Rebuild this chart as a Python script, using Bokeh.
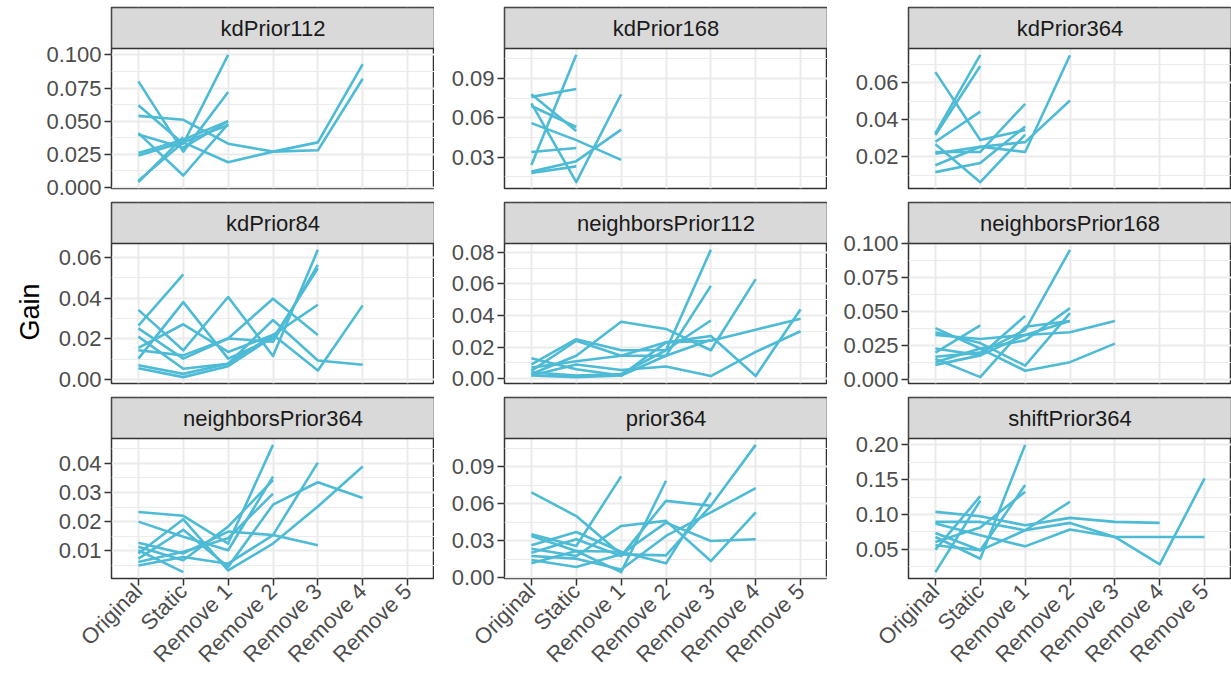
import math
from bokeh.plotting import figure
from bokeh.layouts import column, row
from bokeh.models import FixedTicker, Title, Range1d, PrintfTickFormatter
from bokeh.embed import file_html
from bokeh.resources import INLINE
from bokeh.core.properties import value

conditions = ["Original", "Static", "Remove 1", "Remove 2", "Remove 3", "Remove 4", "Remove 5"]
panel_names = ["kdPrior112", "kdPrior168", "kdPrior364",
               "kdPrior84", "neighborsPrior112", "neighborsPrior168",
               "neighborsPrior364", "prior364", "shiftPrior364"]

kd_prior_112 = [
    [0.080, 0.027, 0.072],
    [0.062, 0.033, 0.100],
    [0.054, 0.051, 0.033, 0.027, 0.028, 0.082],
    [0.041, 0.009, 0.048],
    [0.040, 0.030, 0.050],
    [0.026, 0.036, 0.050],
    [0.024, 0.034, 0.019, 0.027, 0.034, 0.093],
    [0.005, 0.034, 0.047],
    [0.004, 0.038],
]
kd_prior_168 = [
    [0.076, 0.082],
    [0.024, 0.108],
    [0.078, 0.050],
    [0.071, 0.011, 0.078],
    [0.069, 0.053],
    [0.056, 0.043, 0.028],
    [0.034, 0.037],
    [0.019, 0.027, 0.051],
    [0.018, 0.023],
]
kd_prior_364 = [
    [0.0658, 0.0291, 0.0345],
    [0.0327, 0.0751],
    [0.0318, 0.0691],
    [0.0282, 0.0445],
    [0.0269, 0.0064, 0.0320],
    [0.0227, 0.0227, 0.0487],
    [0.0218, 0.0255, 0.0227, 0.0749],
    [0.0155, 0.0255, 0.0280, 0.0505],
    [0.0118, 0.0167, 0.0364],
]
kd_prior_84 = [
    [0.0265, 0.0517],
    [0.0343, 0.0144, 0.0406, 0.0116, 0.0638],
    [0.0103, 0.0381, 0.0103, 0.0202, 0.0547],
    [0.0252, 0.0103, 0.0202, 0.0398, 0.0219],
    [0.0211, 0.0053, 0.0078, 0.0293, 0.0094, 0.0073],
    [0.0156, 0.0272, 0.0136, 0.0219, 0.0368],
    [0.0144, 0.0119, 0.0202, 0.0186, 0.0564],
    [0.0070, 0.0028, 0.0078, 0.0220, 0.0045, 0.0365],
    [0.0056, 0.0012, 0.0066, 0.0210],
]
neighbors_prior_112 = [
    [0.009, 0.025, 0.018, 0.018, 0.0815],
    [0.005, 0.024, 0.0145, 0.0145, 0.0247],
    [0.003, 0.0145, 0.036, 0.0315, 0.018, 0.063],
    [0.013, 0.006, 0.002, 0.0145, 0.0587],
    [0.007, 0.011, 0.0145, 0.023, 0.027, 0.0017, 0.044],
    [0.002, 0.009, 0.0055, 0.0077, 0.0017, 0.017, 0.030],
    [0.004, 0.002, 0.003, 0.018, 0.0368],
    [0.002, 0.001, 0.002, 0.023, 0.024, 0.031, 0.038],
]
neighbors_prior_168 = [
    [0.038, 0.023, 0.0067, 0.013, 0.0266],
    [0.035, 0.027, 0.0104, 0.049],
    [0.033, 0.030, 0.033, 0.035, 0.0433],
    [0.023, 0.018, 0.047],
    [0.020, 0.040],
    [0.017, 0.020, 0.0366, 0.0955],
    [0.0154, 0.002, 0.039, 0.0433],
    [0.013, 0.023, 0.029, 0.0527],
    [0.011, 0.018, 0.033, 0.0433],
]
neighbors_prior_364 = [
    [0.0233, 0.0220, 0.0125, 0.0463],
    [0.0200, 0.0148, 0.0102, 0.0354],
    [0.0128, 0.0091, 0.0166, 0.0154, 0.0119],
    [0.0114, 0.0068, 0.0183, 0.0342],
    [0.0102, 0.0027],
    [0.0091, 0.0208, 0.0033, 0.0125, 0.0252, 0.0389],
    [0.0073, 0.0172, 0.0045, 0.0258, 0.0335, 0.0281],
    [0.0062, 0.0097, 0.0143, 0.0296],
    [0.0050, 0.0079, 0.0056, 0.0154, 0.0402],
]
prior_364 = [
    [0.0691, 0.0500, 0.0190, 0.0447, 0.0298, 0.0312],
    [0.0352, 0.0258, 0.0821],
    [0.0339, 0.0217, 0.0046, 0.0786],
    [0.0263, 0.0371, 0.0211, 0.0117, 0.0691],
    [0.0236, 0.0176, 0.0420, 0.0461, 0.0136, 0.0529],
    [0.0203, 0.0312, 0.0176, 0.0623, 0.0583, 0.1076],
    [0.0176, 0.0155, 0.0068, 0.0339, 0.0529, 0.0726],
    [0.0144, 0.0087, 0.0190, 0.0182, 0.0583],
    [0.0117, 0.0217, 0.0211],
]
shift_prior_364 = [
    [0.1038, 0.0976, 0.0846, 0.0952, 0.0894, 0.0880],
    [0.0894, 0.0894, 0.0774, 0.0880, 0.0678, 0.0284, 0.1519],
    [0.0870, 0.0702, 0.0543, 0.0784, 0.0678, 0.0678, 0.0678],
    [0.0736, 0.0486, 0.1423],
    [0.0678, 0.0365, 0.2000],
    [0.0606, 0.0813, 0.1327],
    [0.0558, 0.0486, 0.0774, 0.1183],
    [0.0495, 0.1264],
    [0.0173, 0.1200],
]
panel_series = [kd_prior_112, kd_prior_168, kd_prior_364,
                kd_prior_84, neighbors_prior_112, neighbors_prior_168,
                neighbors_prior_364, prior_364, shift_prior_364]

y_ticks = [
    [0.0, 0.025, 0.05, 0.075, 0.1],
    [0.03, 0.06, 0.09],
    [0.02, 0.04, 0.06],
    [0.0, 0.02, 0.04, 0.06],
    [0.0, 0.02, 0.04, 0.06, 0.08],
    [0.0, 0.025, 0.05, 0.075, 0.1],
    [0.01, 0.02, 0.03, 0.04],
    [0.0, 0.03, 0.06, 0.09],
    [0.05, 0.10, 0.15, 0.20],
]
y_tick_decimals = [3, 2, 2, 2, 2, 3, 2, 2, 2]
y_label = "Gain"

LINE_COLOR = "#4DBBD5"
FONT = "Liberation Sans"
FRAME_W = 323
FRAME_H = 181
STRIP_PX = 41
PANEL_PX = FRAME_H - STRIP_PX
COL_LEFT = [111, 70, 81]
ROW_TOP = [7, 3, 3]
ROW_BOTTOM = [11, 11, 101]

figs = []
for i, (name, series) in enumerate(zip(panel_names, panel_series)):
    r, c = divmod(i, 3)
    lo = min(min(s) for s in series)
    hi = max(max(s) for s in series)
    pad = (hi - lo) * 0.05
    ymin, ymax = lo - pad, hi + pad
    strip_h = (ymax - ymin) * STRIP_PX / PANEL_PX
    n = len(conditions)
    x0, x1 = -0.6, n - 1 + 0.6
    p = figure(width=COL_LEFT[c] + FRAME_W, height=ROW_TOP[r] + FRAME_H + ROW_BOTTOM[r],
               x_range=Range1d(x0, x1), y_range=Range1d(ymin, ymax + strip_h),
               output_backend="svg", toolbar_location=None, title=None,
               x_axis_location=("below" if r == 2 else None),
               min_border_left=COL_LEFT[c], min_border_right=0,
               min_border_top=ROW_TOP[r], min_border_bottom=ROW_BOTTOM[r])
    p.background_fill_color = "white"
    p.border_fill_color = "white"
    p.outline_line_color = "#333333"
    p.outline_line_width = 1.5

    ticks = y_ticks[i]
    step = ticks[1] - ticks[0]
    minors = [ticks[0] - step / 2] + [t + step / 2 for t in ticks]
    p.ygrid.ticker = FixedTicker(ticks=ticks, minor_ticks=minors)
    p.xgrid.ticker = FixedTicker(ticks=list(range(n)))
    p.grid.grid_line_color = "#EBEBEB"
    p.grid.grid_line_width = 2
    p.ygrid.minor_grid_line_color = "#EBEBEB"
    p.ygrid.minor_grid_line_width = 1

    ya = p.yaxis[0]
    ya.ticker = FixedTicker(ticks=ticks, minor_ticks=minors)
    ya.formatter = PrintfTickFormatter(format="%%.%df" % y_tick_decimals[i])
    ya.axis_line_color = None
    ya.major_tick_line_color = "#333333"
    ya.major_tick_line_width = 1.5
    ya.major_tick_in = 0
    ya.major_tick_out = 7
    ya.minor_tick_line_color = None
    ya.major_label_text_font = FONT
    ya.major_label_text_font_size = "22px"
    ya.major_label_text_color = "#4D4D4D"
    ya.major_label_standoff = 3

    if r == 2:
        xa = p.xaxis[0]
        xa.ticker = FixedTicker(ticks=list(range(n)))
        xa.major_label_overrides = {k: conditions[k] for k in range(n)}
        xa.axis_line_color = None
        xa.major_tick_line_color = "#333333"
        xa.major_tick_line_width = 1.5
        xa.major_tick_in = 0
        xa.major_tick_out = 7
        xa.minor_tick_line_color = None
        xa.major_label_orientation = math.pi / 4
        xa.major_label_text_font = FONT
        xa.major_label_text_font_size = "22px"
        xa.major_label_text_color = "#4D4D4D"
        xa.major_label_standoff = 2

    p.multi_line(xs=[list(range(len(s))) for s in series], ys=series,
                 line_color=LINE_COLOR, line_width=2.6, line_join="round")

    p.quad(left=[x0], right=[x1], bottom=[ymax], top=[ymax + strip_h],
           fill_color="#D9D9D9", line_color="#333333", line_width=1.5)
    p.text(x=[(x0 + x1) / 2], y=[ymax + strip_h / 2], text=[name],
           text_align="center", text_baseline="middle",
           text_font=value(FONT), text_font_size=value("22px"),
           text_color="#1A1A1A")

    if r == 1 and c == 0:
        tkw = dict(text=y_label, align="left", offset=43,
                   text_font=FONT, text_font_size="27px",
                   text_font_style="normal", text_color="#000000")
        if "standoff" in Title.properties():
            tkw["standoff"] = 22
        p.add_layout(Title(**tkw), "left")
    figs.append(p)

layout = column(row(*figs[0:3]), row(*figs[3:6]), row(*figs[6:9]))
open("out.html", "w").write(file_html(layout, INLINE))
